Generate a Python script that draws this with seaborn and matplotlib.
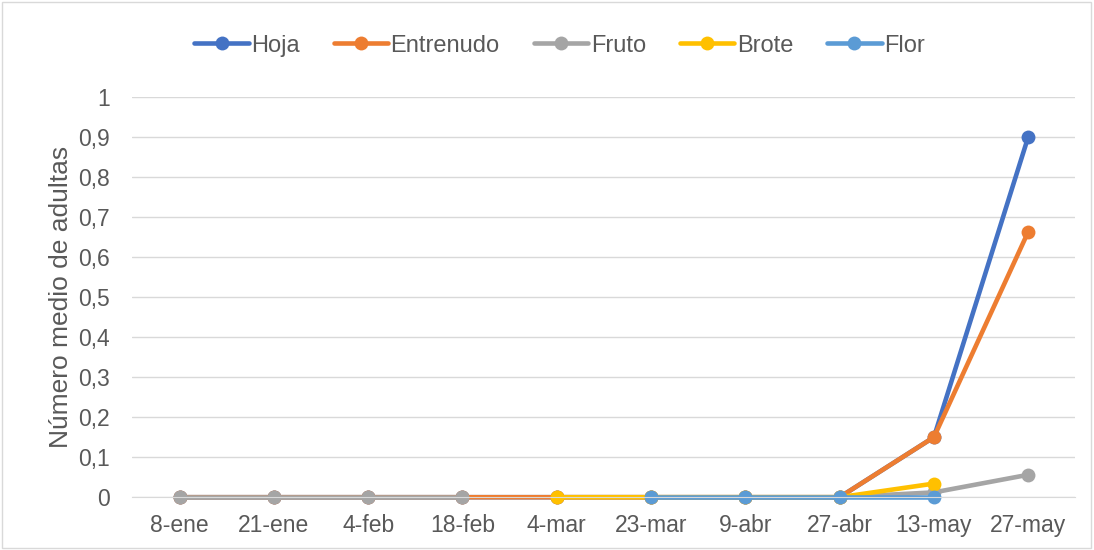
import numpy as np
import pandas as pd
import matplotlib
matplotlib.use('Agg')
import matplotlib.pyplot as plt
import seaborn as sns

# %% Data
fechas = ['8-ene', '21-ene', '4-feb', '18-feb', '4-mar', '23-mar',
          '9-abr', '27-abr', '13-may', '27-may']

hoja      = [0, 0, 0, 0, 0, 0, 0, 0, 0.15, 0.90]
entrenudo = [0, 0, 0, 0, 0, 0, 0, 0, 0.15, 0.663]
fruto     = [0, 0, 0, 0, np.nan, np.nan, np.nan, 0, 0.012, 0.056]
brote     = [np.nan, np.nan, np.nan, np.nan, 0, 0, 0, 0, 0.034, np.nan]
flor      = [np.nan, np.nan, np.nan, np.nan, np.nan, 0, 0, 0, 0, np.nan]

series = {'Hoja': hoja, 'Entrenudo': entrenudo, 'Fruto': fruto,
          'Brote': brote, 'Flor': flor}
colores = ['#4472C4', '#ED7D31', '#A5A5A5', '#FFC000', '#5B9BD5']

# Long table, with a segment id so gaps are not joined
rows = []
for name, vals in series.items():
    seg = 0
    for i, v in enumerate(vals):
        if np.isnan(v):
            seg += 1
            continue
        rows.append({'pos': i, 'valor': v, 'serie': name, 'seg': f'{name}_{seg}'})
df = pd.DataFrame(rows)

# %% Plot
sns.set_style('white')
plt.rcParams['font.family'] = ['Liberation Sans', 'DejaVu Sans']

fig = plt.figure(figsize=(10.94, 5.5), dpi=100)
ax = fig.add_axes([0.121, 0.096, 0.862, 0.728])

sns.lineplot(data=df, x='pos', y='valor', hue='serie', units='seg',
             estimator=None, hue_order=list(series.keys()),
             palette=colores, linewidth=3.3, marker='o', markersize=10,
             markeredgewidth=0, clip_on=False, ax=ax)

ax.set_xlim(-0.5, len(fechas) - 0.5)
ax.set_ylim(0, 1)
ax.set_xticks(range(len(fechas)))
ax.set_xticklabels(fechas)
yt = np.round(np.arange(0, 1.01, 0.1), 1)
ax.set_yticks(yt)
ax.set_yticklabels([f'{v:g}'.replace('.', ',') for v in yt])
ax.tick_params(axis='both', labelsize=16.5, colors='#595959', length=0)
ax.tick_params(axis='x', pad=12)
ax.tick_params(axis='y', pad=16)
ax.yaxis.grid(True, color='#D9D9D9', linewidth=1)
ax.set_axisbelow(True)
for s in ['top', 'right', 'left']:
    ax.spines[s].set_visible(False)
ax.spines['bottom'].set_color('#D9D9D9')
ax.set_xlabel('')
ax.set_ylabel('Número medio de adultas', fontsize=19, color='#595959', labelpad=4)

handles, labels = ax.get_legend_handles_labels()
ax.legend(handles, labels, loc='center', bbox_to_anchor=(0.453, 1.128), ncol=5,
          frameon=False, fontsize=17, handlelength=2.3, handletextpad=0.1,
          columnspacing=1.45, labelcolor='#595959')

# outer chart border
fig.patches.append(plt.Rectangle((0.002, 0.003), 0.995, 0.994, transform=fig.transFigure,
                                 fill=False, edgecolor='#D9D9D9', linewidth=1))

fig.savefig('out.png', dpi=100)
